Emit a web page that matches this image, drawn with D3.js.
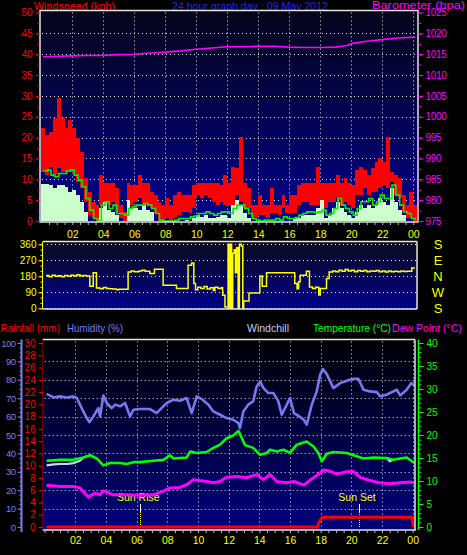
<!DOCTYPE html>
<html><head><meta charset="utf-8">
<script src="https://cdn.jsdelivr.net/npm/d3@7"></script>
<style>
body{margin:0;background:#000;}
svg{display:block;}
text{font-family:"Liberation Sans",Arial,sans-serif;}
</style>
</head><body>
<svg id="c" width="467" height="555"></svg>
<script>
// ---------------- DATA ----------------
const sampleHours = d3.range(0, 24.001, 0.25);           // 15-minute samples
const gustHigh = [22.2,20.6,21.4,24.6,29.4,24.6,22.2,24.2,22.2,
  19.8,16.6,10.2,7.0,4.6,3.8,11.0,9.0,
  9.0,9.0,7.8,3.8,2.2,9.0,8.6,8.6,
  11.0,9.0,9.0,7.0,6.2,4.6,3.8,5.4,
  3.8,6.2,7.0,6.2,6.2,6.2,8.6,9.0,
  9.0,9.0,9.0,9.0,9.0,8.6,11.0,9.0,
  13.0,12.6,20.2,9.0,7.8,3.8,3.8,6.2,
  3.8,3.8,7.8,3.8,3.8,6.2,3.8,6.2,
  6.2,8.6,9.0,9.0,9.0,9.0,13.0,9.0,
  9.0,9.0,9.0,11.0,9.0,10.2,9.0,8.6,
  12.2,13.0,12.2,11.0,12.6,14.2,15.0,14.2,
  20.2,11.8,11.0,10.2,6.2,3.8,7.0,3.8];
const gustLow = [11.8,11.0,13.0,11.0,12.6,11.8,11.8,11.8,11.4,
  9.4,7.8,4.6,1.4,0.6,0,3.8,3.8,
  3.8,4.6,2.2,0.6,0,3.0,3.8,4.6,
  5.4,3.8,3.8,3.0,1.8,0,0,0.6,
  0,0.6,1.4,2.2,2.2,1.8,3.0,6.2,
  5.4,6.2,5.4,4.6,3.8,4.6,3.8,3.8,
  3.8,6.2,4.6,3.0,3.0,0.6,1.0,1.4,
  1.4,0.6,1.8,1.8,1.4,3.0,1.8,1.8,
  1.8,3.8,4.6,4.6,3.8,3.8,3.8,3.8,
  3.0,4.6,4.6,5.4,3.8,4.6,3.8,3.0,
  6.2,6.2,7.8,6.2,7.0,7.0,7.8,8.6,
  7.8,9.4,6.2,5.4,2.2,0.6,0.6,0];
const windAverage = [12.0,12.2,11.0,10.6,11.4,11.4,12.0,12.2,11.0,
  9.8,8.2,5.4,2.6,0.6,0,3.8,4.6,
  3.0,3.8,1.8,1.8,1.4,3.0,3.4,3.8,
  3.8,4.2,3.8,3.0,1.8,0.2,0,0,
  0,0.2,0.6,0.6,0.6,1.0,1.2,1.8,
  1.8,2.2,1.8,1.4,1.8,2.2,2.2,1.8,
  3.0,3.8,3.8,3.0,1.8,0.6,0.2,0,
  0.2,0.2,0.2,0.6,0.2,1.0,0.6,0.6,
  0.8,1.4,1.8,2.2,2.2,2.0,2.2,2.6,
  1.4,1.8,3.0,5.4,3.8,3.0,2.2,1.4,
  3.0,4.6,4.6,5.4,3.8,4.6,6.2,5.4,
  5.4,8.6,6.2,3.8,2.2,1.8,0.6,0.2];
const windSpeed = [8.8,8.8,8.6,7.8,8.6,8.6,8.2,7.0,7.4,
  6.2,4.6,2.2,0,0,0,3.0,4.6,
  2.6,2.2,1.4,0,0,5.0,3.0,3.0,
  2.6,3.8,2.6,2.2,0,0,0,0,
  0,0,0,0,0.2,0,0.6,1.4,
  1.0,1.4,0.6,0.6,1.0,1.4,1.4,0.6,
  3.8,5.0,3.8,1.8,0.6,0,0,0,
  0,0,0,0,0,0,0,0,
  0.6,0.6,1.4,1.4,1.4,1.4,3.0,5.0,
  0.6,1.4,3.0,4.6,3.0,2.2,1.4,0.6,
  2.2,3.8,3.0,3.8,3.0,3.8,5.4,4.6,
  3.8,7.8,4.6,2.6,1.4,0,0,0];
const baroHours = [0.1,1,2,3,4,5,6,7,8,9,10,11,12,13,14,15,16,17,18,19,19.7,20.1,21,22,23,24.1];
const baroValues = [1014.4,1014.5,1014.6,1014.7,1014.7,1014.9,1015.0,1015.3,1015.5,1015.8,1016.2,1016.5,1016.8,1016.8,1016.9,1016.9,1016.7,1016.6,1016.6,1016.7,1017.1,1017.6,1018.1,1018.5,1018.9,1019.1];

const dirHours = [0.3,0.5,0.7,0.9,1.1,1.3,1.5,1.7,1.9,2.1,2.3,2.5,2.7,2.9,3.13,3.35,3.56,3.8,4.0,4.2,4.4,4.6,4.85,5.0,5.6,5.8,6.0,6.3,6.5,6.7,7.0,7.3,7.86,8.72,9.47,9.7,9.84,9.95,10.1,10.3,10.5,10.7,10.9,11.1,11.2,11.4,11.6,11.7,11.85,12.05,12.12,12.2,12.28,12.35,12.45,12.52,12.6,12.7,12.78,12.9,13.0,13.06,13.4,14.1,14.25,14.53,16.35,16.5,16.6,16.7,17.1,17.3,17.5,17.7,17.9,18.0,18.4,18.57,18.8,19.0,19.2,19.4,19.6,19.8,20.0,20.2,20.4,20.6,20.8,21.0,21.2,21.4,21.6,21.8,22.0,22.2,22.4,22.6,22.8,23.0,23.2,23.4,23.6,23.9,24.1];
const dirValues = [185,178,186,180,183,178,184,180,186,182,189,182,185,182,124,200,114,110,117,112,110,108,104,107,204,210,206,210,214,208,196,219,129,111,242,255,140,105,118,112,122,108,115,100,118,112,116,73,7,360,0,360,0,310,330,200,340,0,360,350,0,41,86,182,124,200,140,110,150,186,208,120,112,118,75,111,167,204,210,206,214,208,218,210,214,206,212,208,212,205,210,208,212,206,210,204,210,206,208,205,210,207,208,227,227];

const humHours = [0.13,0.57,1.0,1.44,1.87,2.1,2.42,2.75,2.92,3.18,3.5,3.62,3.83,4.05,4.37,4.6,4.92,5.25,5.57,5.79,6.22,6.87,7.3,7.74,7.96,8.4,8.83,9.26,9.59,9.92,10.3,10.68,11.0,11.44,11.87,12.3,12.64,12.74,12.96,13.27,13.6,13.83,14.05,14.27,14.59,14.92,15.24,15.46,15.79,16.0,16.26,16.6,16.9,17.09,17.42,17.74,17.97,18.14,18.4,18.83,19.27,19.7,20.13,20.46,20.79,21.22,21.66,21.87,22.3,22.96,23.18,23.61,23.9,24.1];
const humValues = [72.3,70.4,71.0,70.4,71.0,70.1,64.6,59.2,57.0,60.1,64.6,60.1,71.5,67.4,64.6,66.5,65.6,67.4,60.1,63.7,64.1,64.1,61.9,65.6,67.4,69.2,68.6,70.1,61.9,71.0,69.2,66.5,62.8,61.0,59.2,58.3,56.5,53.8,62.8,66.5,68.3,76.4,79.1,75.5,72.8,72.8,68.3,61.0,66.5,70.1,61.9,60.1,58.3,55.6,66.5,73.7,82.8,85.9,83.1,75.5,78.2,79.5,80.6,80.6,74.6,73.7,73.3,71.0,71.9,74.6,71.5,74.6,78.2,76.8];
const tempHours = [0.13,1.0,1.87,2.53,2.96,3.4,3.83,4.27,4.92,5.35,5.79,6.22,7.09,7.74,8.18,8.4,9.26,9.48,9.92,10.57,11.0,11.44,11.87,12.3,12.64,12.86,13.07,13.6,14.05,14.48,14.7,15.13,15.57,16.0,16.44,17.09,17.53,17.85,18.07,18.4,18.83,19.7,20.35,20.79,21.44,22.3,22.74,23.18,23.61,24.1];
const tempValues = [14.4,14.6,14.6,15.1,15.6,14.9,13.4,13.9,13.9,13.7,14.1,14.1,14.4,14.6,15.6,14.9,15.1,16.4,16.1,16.3,17.2,17.9,19.3,19.9,20.9,19.3,17.8,17.2,15.7,16.1,16.8,16.4,16.8,16.1,17.9,18.6,17.5,16.1,14.3,15.9,16.3,16.1,15.4,14.9,15.1,15.0,14.6,14.9,15.1,13.9];
const chillHours = [0.13,0.6,1.0,1.5,1.87,2.3,2.53, 22.3,22.5,22.74];
const chillValues = [13.4,13.6,13.7,13.7,13.9,14.4,15.1, 15.0,14.3,14.6];
const dewHours = [0.13,1.0,1.87,2.3,2.85,3.29,3.62,3.83,4.05,4.48,5.35,6.22,7.09,7.74,8.18,8.83,9.26,9.7,10.57,11.0,11.44,11.87,12.53,13.18,13.83,14.27,14.7,15.13,15.79,16.26,16.9,17.35,17.74,18.2,18.62,19.05,19.7,20.13,20.57,21.22,21.87,22.52,23.18,23.83,24.1];
const dewValues = [9.1,8.8,8.8,8.5,6.5,7.4,7.0,7.9,7.6,7.0,7.0,6.9,7.0,7.8,8.5,8.6,9.2,10.3,9.9,9.6,9.9,10.8,11.0,10.7,11.4,10.3,11.4,9.9,9.6,9.9,9.1,10.3,11.2,12.4,12.1,11.5,12.0,12.1,10.8,10.1,9.6,9.4,9.6,9.8,9.6];
const rainHours = [0.13,17.8,17.9,18.1,23.95,24.05];
const rainValues = [0,0,0.8,1.6,1.6,0];

const sunRiseHour = 6.24, sunSetHour = 20.5;
const hourTickValues = [2,4,6,8,10,12,14,16,18,20,22,24];
const hourTickLabels = ["02","04","06","08","10","12","14","16","18","20","22","00"];
const windTicks = [0,5,10,15,20,25,30,35,40,45,50];
const baroTicks = [975,980,985,990,995,1000,1005,1010,1015,1020,1025];
const dirTicks = [0,90,180,270,360];
const compassLabels = ["S","W","N","E","S"];
const humTicks = [0,10,20,30,40,50,60,70,80,90,100];
const rainTicks = [0,2,4,6,8,10,12,14,16,18,20,22,24,26,28,30];
const tempTicks = [0,5,10,15,20,25,30,35,40];

// ---------------- DRAW ----------------
const FONT = '"Liberation Sans",Arial,sans-serif';
const svg = d3.select("#c");
const defs = svg.append("defs");
function grad(id, c0, c1){
  const g = defs.append("linearGradient").attr("id",id).attr("x1",0).attr("y1",0).attr("x2",0).attr("y2",1);
  g.append("stop").attr("offset","0%").attr("stop-color",c0);
  g.append("stop").attr("offset","100%").attr("stop-color",c1);
}
grad("gTop","#05051a","#00008c");
grad("gMid","#0a0a1e","#00008a");
grad("gBot","#000004","#00007e");
function clip(id,x0,y0,x1,y1){
  defs.append("clipPath").attr("id",id).append("rect").attr("x",x0).attr("y",y0).attr("width",x1-x0).attr("height",y1-y0);
}
function styleAxis(g, color, size, ls){
  g.attr("font-family",FONT);
  g.select(".domain").remove();
  g.selectAll("line").attr("stroke",color);
  g.selectAll("text").attr("fill",color).attr("font-size",size).attr("font-family",FONT)
    .attr("letter-spacing", ls || 0);
}
function dots(g, x1,y1,x2,y2){
  g.append("line").attr("x1",x1).attr("y1",y1).attr("x2",x2).attr("y2",y2)
    .attr("stroke","#e8e8e8").attr("stroke-width",1).attr("stroke-dasharray","1,3");
}
function range(a,b,s){ return d3.range(a,b+1e-9,s); }

// ===== Titles =====
svg.append("text").attr("x",34).attr("y",9.5).attr("fill","#ff0000").attr("font-size",10.5)
  .attr("textLength",81).attr("lengthAdjust","spacingAndGlyphs").text("Windspeed (kph)");
svg.append("text").attr("x",172).attr("y",9.5).attr("fill","#2424ee").attr("font-size",10.5)
  .attr("textLength",156).attr("lengthAdjust","spacingAndGlyphs").text("24 hour graph day : 09 May 2012");
svg.append("text").attr("x",372).attr("y",9).attr("fill","#ff00ff").attr("font-size",10.5)
  .attr("textLength",93).attr("lengthAdjust","spacingAndGlyphs").text("Barometer (hpa)");

// ===== Top panel =====
const T = {x0:40, x1:418, y0:10.5, y1:222};
const xTop = d3.scaleLinear().domain([0,24]).range([41.3,413.3]);
const yWind = d3.scaleLinear().domain([0,50]).range([221,12.5]);
const yBaro = d3.scaleLinear().domain([975,1025]).range([221,12.5]);
clip("cTop",T.x0,T.y0,T.x1,T.y1);
svg.append("rect").attr("x",T.x0).attr("y",T.y0).attr("width",T.x1-T.x0).attr("height",T.y1-T.y0).attr("fill","url(#gTop)");
const gridTop = svg.append("g");
hourTickValues.forEach(h=>dots(gridTop, Math.round(xTop(h))+0.5, T.y0+2, Math.round(xTop(h))+0.5, T.y1));
windTicks.filter(v=>v>0&&v<50).forEach(v=>dots(gridTop, T.x0+2, Math.round(yWind(v))+0.5, T.x1, Math.round(yWind(v))+0.5));

const dTop = svg.append("g").attr("clip-path","url(#cTop)").attr("shape-rendering","crispEdges");
const bw = xTop(0.25)-xTop(0);
dTop.selectAll("rect.gust").data(sampleHours).join("rect").attr("class","gust")
  .attr("x",h=>xTop(h)).attr("width",bw)
  .attr("y",(h,i)=>yWind(gustHigh[i]))
  .attr("height",(h,i)=>Math.max(0.5,yWind(gustLow[i])-yWind(gustHigh[i])))
  .attr("fill","#ff0000");
dTop.selectAll("rect.ws").data(sampleHours).join("rect").attr("class","ws")
  .attr("x",h=>xTop(h)).attr("width",bw)
  .attr("y",(h,i)=>yWind(windSpeed[i]))
  .attr("height",(h,i)=>yWind(0)-yWind(windSpeed[i]))
  .attr("fill","#ccffcc");
const dTop2 = svg.append("g").attr("clip-path","url(#cTop)");
dTop2.append("path").datum(sampleHours)
  .attr("d",d3.line().x(h=>xTop(h)+bw/2).y((h,i)=>yWind(windAverage[i])).curve(d3.curveStepAfter))
  .attr("fill","none").attr("stroke","#00ee00").attr("stroke-width",1.6);
dTop2.append("path").datum(baroHours)
  .attr("d",d3.line().x(h=>xTop(h)).y((h,i)=>yBaro(baroValues[i])))
  .attr("fill","none").attr("stroke","#ff00ff").attr("stroke-width",1.6);

// borders
svg.append("rect").attr("x",T.x0).attr("y",T.y0).attr("width",T.x1-T.x0).attr("height",T.y1-T.y0)
  .attr("fill","none").attr("stroke","#e4e4e4").attr("stroke-width",1.5);
// left axis
const axWind = svg.append("g").attr("transform",`translate(${T.x0-0.5},0)`)
  .call(d3.axisLeft(yWind).tickValues(windTicks).tickSize(4).tickPadding(3).tickFormat(d3.format("d")));
styleAxis(axWind,"#ff0000",10);
const axWindMinor = svg.append("g").attr("transform",`translate(${T.x0-0.5},0)`)
  .call(d3.axisLeft(yWind).tickValues(range(0,50,2.5)).tickSize(2).tickFormat(""));
styleAxis(axWindMinor,"#ff0000",10);
// right axis
const axBaro = svg.append("g").attr("transform",`translate(${T.x1+0.5},0)`)
  .call(d3.axisRight(yBaro).tickValues(baroTicks).tickSize(5).tickPadding(2).tickFormat(d3.format("d")));
styleAxis(axBaro,"#ff00ff",10,-0.3);
const axBaroMinor = svg.append("g").attr("transform",`translate(${T.x1+0.5},0)`)
  .call(d3.axisRight(yBaro).tickValues(range(975,1025,2.5)).tickSize(3).tickFormat(""));
styleAxis(axBaroMinor,"#ff00ff",10);
// hour axis
const axHourMinor = svg.append("g").attr("transform",`translate(0,${T.y1})`)
  .call(d3.axisBottom(xTop).tickValues(range(0.5,24,0.5)).tickSize(3).tickFormat(""));
styleAxis(axHourMinor,"#bbbbbb",10);
const axHour = svg.append("g").attr("transform",`translate(0,${T.y1})`)
  .call(d3.axisBottom(xTop).tickValues(hourTickValues).tickSize(0).tickPadding(8.5).tickFormat((d,i)=>hourTickLabels[i]));
styleAxis(axHour,"#ffff00",10.5);

// ===== Middle panel (wind direction) =====
const M = {x0:43, x1:417, y0:241.5, y1:309};
const yDir = d3.scaleLinear().domain([0,360]).range([308.3,244.3]);
clip("cMid",M.x0,M.y0,M.x1,M.y1);
svg.append("rect").attr("x",M.x0).attr("y",M.y0).attr("width",M.x1-M.x0).attr("height",M.y1-M.y0).attr("fill","url(#gMid)");
const gridMid = svg.append("g");
dirTicks.forEach(v=>dots(gridMid, M.x0+4, Math.round(yDir(v))+0.5, M.x1, Math.round(yDir(v))+0.5));
svg.append("g").attr("clip-path","url(#cMid)").append("path").datum(dirHours)
  .attr("d",d3.line().x(h=>xTop(h)).y((h,i)=>yDir(dirValues[i])).curve(d3.curveStepAfter))
  .attr("fill","none").attr("stroke","#ffff00").attr("stroke-width",1.5);
svg.append("line").attr("x1",M.x0).attr("x2",M.x1).attr("y1",M.y0).attr("y2",M.y0).attr("stroke","#e4e4e4").attr("stroke-width",1.5);
svg.append("line").attr("x1",M.x0).attr("x2",M.x1).attr("y1",M.y1).attr("y2",M.y1).attr("stroke","#e4e4e4").attr("stroke-width",1.5);
svg.append("line").attr("x1",M.x1).attr("x2",M.x1).attr("y1",M.y0).attr("y2",M.y1).attr("stroke","#e4e4e4").attr("stroke-width",1.5);
const axDir = svg.append("g").attr("transform",`translate(${M.x0-0.5},0)`)
  .call(d3.axisLeft(yDir).tickValues(dirTicks).tickSize(4).tickPadding(2));
styleAxis(axDir,"#ffff00",10);
svg.append("line").attr("x1",M.x0-0.5).attr("x2",M.x0-0.5).attr("y1",M.y0).attr("y2",M.y1).attr("stroke","#ffff00");
const axDirMinor = svg.append("g").attr("transform",`translate(${M.x0-0.5},0)`)
  .call(d3.axisLeft(yDir).tickValues(range(0,360,30)).tickSize(2).tickFormat(""));
styleAxis(axDirMinor,"#ffff00",10);
svg.append("g").selectAll("text").data(dirTicks).join("text")
  .attr("x",438).attr("y",d=>yDir(d)).attr("dy","0.36em").attr("text-anchor","middle")
  .attr("fill","#ffff00").attr("font-size",13).text((d,i)=>compassLabels[i]);

// ===== Bottom panel =====
const B = {x0:42.7, x1:415, y0:339.5, y1:530};
const xBot = d3.scaleLinear().domain([0,24]).range([44.6,412.7]);
const yHum = d3.scaleLinear().domain([0,100]).range([527,343]);
const yTemp = d3.scaleLinear().domain([0,40]).range([527,343]);
const yRain = d3.scaleLinear().domain([0,30]).range([527,343]);
clip("cBot",B.x0,B.y0,B.x1,B.y1);

// titles
const botTitles = [
  {t:"Rainfall (mm)", x:0.5, w:59.5, c:"#ff0000"},
  {t:"Humidity (%)", x:67, w:56, c:"#7c7cf4"},
  {t:"Windchill", x:247, w:42, c:"#c0ccf0"},
  {t:"Temperature (°C)", x:313, w:78, c:"#00ff00"},
  {t:"Dew Point (°C)", x:392, w:70, c:"#ff00ff"}];
svg.append("g").selectAll("text").data(botTitles).join("text")
  .attr("x",d=>d.x).attr("y",331.5).attr("fill",d=>d.c).attr("font-size",10.5)
  .attr("textLength",d=>d.w).attr("lengthAdjust","spacingAndGlyphs").text(d=>d.t);

svg.append("rect").attr("x",B.x0).attr("y",B.y0).attr("width",B.x1-B.x0).attr("height",B.y1-B.y0).attr("fill","url(#gBot)");
const gridBot = svg.append("g");
hourTickValues.forEach(h=>dots(gridBot, Math.round(xBot(h))+0.5, B.y0+2, Math.round(xBot(h))+0.5, B.y1));
humTicks.filter(v=>v>0&&v<100).forEach(v=>dots(gridBot, B.x0+2, Math.round(yHum(v))+0.5, B.x1, Math.round(yHum(v))+0.5));

const dBot = svg.append("g").attr("clip-path","url(#cBot)");
// sun markers
[[sunRiseHour,"Sun Rise"],[sunSetHour,"Sun Set"]].forEach(([h,lab])=>{
  const x = Math.round(xBot(h))+0.5;
  dBot.append("line").attr("x1",x).attr("x2",x).attr("y1",504).attr("y2",512).attr("stroke","#ffffff").attr("stroke-width",1);
  dBot.append("line").attr("x1",x).attr("x2",x).attr("y1",512).attr("y2",527).attr("stroke","#ffff00").attr("stroke-width",1).attr("stroke-dasharray","1,1");
  dBot.append("text").attr("x",xBot(h)-2).attr("y",501).attr("text-anchor","middle").attr("fill","#ffff00").attr("font-size",10.5).text(lab);
});
const lineB = (hs, vs, ys) => d3.line().x((h)=>xBot(h)).y((h,i)=>ys(vs[i]));
dBot.append("path").datum(rainHours).attr("d",lineB(rainHours,rainValues,yRain))
  .attr("fill","none").attr("stroke","#ff0000").attr("stroke-width",3);
dBot.append("path").datum(humHours).attr("d",lineB(humHours,humValues,yHum))
  .attr("fill","none").attr("stroke","#7878ee").attr("stroke-width",2.6).attr("stroke-linejoin","round");
// windchill segments
const chillA = [0,1,2,3,4,5,6], chillB=[7,8,9];
[chillA,chillB].forEach(idx=>{
  dBot.append("path").datum(idx).attr("d",d3.line().x(i=>xBot(chillHours[i])).y(i=>yTemp(chillValues[i])))
    .attr("fill","none").attr("stroke","#c8d4f4").attr("stroke-width",2.2);
});
dBot.append("path").datum(tempHours).attr("d",lineB(tempHours,tempValues,yTemp))
  .attr("fill","none").attr("stroke","#00ff00").attr("stroke-width",2.6).attr("stroke-linejoin","round");
dBot.append("path").datum(dewHours).attr("d",lineB(dewHours,dewValues,yTemp))
  .attr("fill","none").attr("stroke","#ff00ff").attr("stroke-width",3).attr("stroke-linejoin","round");

// borders
svg.append("line").attr("x1",B.x0).attr("x2",B.x1).attr("y1",B.y0).attr("y2",B.y0).attr("stroke","#e4e4e4").attr("stroke-width",1.5);
svg.append("line").attr("x1",B.x0).attr("x2",B.x1+1).attr("y1",B.y1).attr("y2",B.y1).attr("stroke","#e4e4e4").attr("stroke-width",1.5);
svg.append("line").attr("x1",B.x1).attr("x2",B.x1).attr("y1",B.y0).attr("y2",B.y1).attr("stroke","#e4e4e4").attr("stroke-width",1.5);
// rain axis (left, red)
svg.append("line").attr("x1",B.x0).attr("x2",B.x0).attr("y1",B.y0).attr("y2",B.y1).attr("stroke","#ff0000").attr("stroke-dasharray","1,1");
const axRain = svg.append("g").attr("transform",`translate(${B.x0},0)`)
  .call(d3.axisLeft(yRain).tickValues(rainTicks).tickSize(4).tickPadding(3));
styleAxis(axRain,"#ff0000",10);
// humidity axis (far left, blue)
svg.append("line").attr("x1",21.5).attr("x2",21.5).attr("y1",B.y0).attr("y2",B.y1+2).attr("stroke","#7c7cf4").attr("stroke-width",2);
const axHum = svg.append("g").attr("transform",`translate(21.5,0)`)
  .call(d3.axisLeft(yHum).tickValues(humTicks).tickSize(4).tickPadding(2));
styleAxis(axHum,"#7c7cf4",9.5,-0.5);
const axHumMinor = svg.append("g").attr("transform",`translate(21.5,0)`)
  .call(d3.axisLeft(yHum).tickValues(range(0,100,2.5)).tickSize(2).tickFormat(""));
styleAxis(axHumMinor,"#7c7cf4",10);
// temperature axis (right, green)
svg.append("line").attr("x1",418.5).attr("x2",418.5).attr("y1",B.y0).attr("y2",B.y1).attr("stroke","#00ff00").attr("stroke-width",1.5);
const axTemp = svg.append("g").attr("transform",`translate(418.5,0)`)
  .call(d3.axisRight(yTemp).tickValues(tempTicks).tickSize(5).tickPadding(3));
styleAxis(axTemp,"#00ff00",10);
const axTempMinor = svg.append("g").attr("transform",`translate(418.5,0)`)
  .call(d3.axisRight(yTemp).tickValues(range(0,40,1)).tickSize(3).tickFormat(""));
styleAxis(axTempMinor,"#00ff00",10);
// hour axis bottom
const axBotMinor = svg.append("g").attr("transform",`translate(0,${B.y1})`)
  .call(d3.axisBottom(xBot).tickValues(range(0,24,0.5)).tickSize(3).tickFormat(""));
styleAxis(axBotMinor,"#bbbbbb",10);
const axBot = svg.append("g").attr("transform",`translate(0,${B.y1})`)
  .call(d3.axisBottom(xBot).tickValues(hourTickValues).tickSize(0).tickPadding(7).tickFormat((d,i)=>hourTickLabels[i]));
styleAxis(axBot,"#ffff00",10.5);
</script>
</body></html>
